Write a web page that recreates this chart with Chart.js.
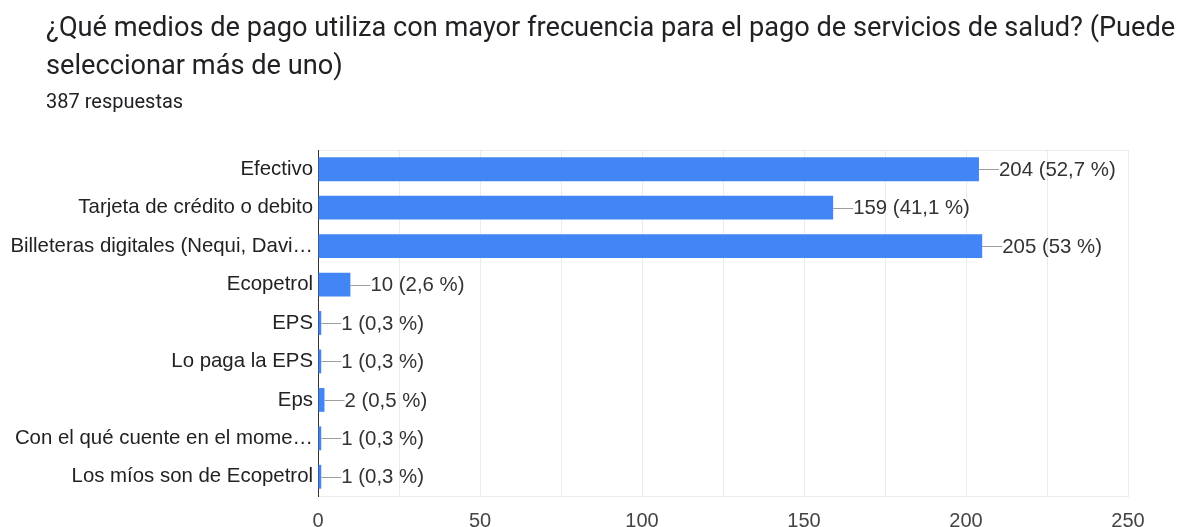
<!DOCTYPE html>
<html>
<head>
<meta charset="utf-8">
<script src="https://cdn.jsdelivr.net/npm/chart.js@4.4.1/dist/chart.umd.min.js"></script>
<style>
  body { margin: 0; background: #fff; }
  #wrap { position: relative; width: 1191px; height: 527px; overflow: hidden; }
  #chart { position: absolute; left: 0; top: 0; }
  .title { position: absolute; left: 46px; top: 8px; width: 1145px; font-family: Roboto, sans-serif; font-size: 27.2px; line-height: 38px; color: #202124; white-space: nowrap; }
  .sub { position: absolute; left: 46px; top: 89px; font-family: Roboto, sans-serif; font-size: 20px; line-height: 24px; color: #202124; }
</style>
</head>
<body>
<div id="wrap">
  <canvas id="chart" width="1191" height="527"></canvas>
  <div class="title">¿Qué medios de pago utiliza con mayor frecuencia para el pago de servicios de salud? (Puede<br>seleccionar más de uno)</div>
  <div class="sub">387 respuestas</div>
</div>
<script>
// answers as shown (long ones are cut by the form itself)
const categories = [
  'Efectivo',
  'Tarjeta de crédito o debito',
  'Billeteras digitales (Nequi, Davi…',
  'Ecopetrol',
  'EPS',
  'Lo paga la EPS',
  'Eps',
  'Con el qué cuente en el mome…',
  'Los míos son de Ecopetrol'
];
const counts = [204, 159, 205, 10, 1, 1, 2, 1, 1];
const percents = ['52,7', '41,1', '53', '2,6', '0,3', '0,3', '0,5', '0,3', '0,3'];
const xTicks = [0, 50, 100, 150, 200, 250];

const labelFont = '"Liberation Sans", Arial, sans-serif';

/*
** draws the little gray line and the "n (p %)" text after each bar
*/
const valueLabels = {
  id: 'valueLabels',
  afterDatasetsDraw(chart) {
    const ctx = chart.ctx;
    const bars = chart.getDatasetMeta(0).data;
    ctx.save();
    ctx.font = '20.4px ' + labelFont;
    ctx.textBaseline = 'middle';
    ctx.textAlign = 'left';
    bars.forEach((bar, i) => {
      ctx.strokeStyle = '#9e9e9e';
      ctx.lineWidth = 1;
      ctx.beginPath();
      ctx.moveTo(bar.x, Math.round(bar.y) + 0.5);
      ctx.lineTo(bar.x + 20, Math.round(bar.y) + 0.5);
      ctx.stroke();
      ctx.fillStyle = '#333';
      ctx.fillText(`${counts[i]} (${percents[i]} %)`, bar.x + 20, bar.y + 1);
    });
    ctx.restore();
  }
};

new Chart(document.getElementById('chart'), {
  type: 'bar',
  data: {
    labels: categories,
    datasets: [{
      data: counts,
      backgroundColor: '#4285f4',
      borderWidth: 0,
      barPercentage: 0.62,
      categoryPercentage: 1
    }]
  },
  plugins: [valueLabels],
  options: {
    indexAxis: 'y',
    responsive: false,
    animation: false,
    layout: { padding: { top: 150, right: 63, left: 0, bottom: 0 } },
    plugins: { legend: { display: false }, tooltip: { enabled: false } },
    scales: {
      x: {
        min: 0,
        max: 250,
        afterFit(scale) { scale.height = 31; },
        border: { color: '#ebebeb' },
        grid: {
          drawTicks: false,
          color: c => (c.tick && c.tick.value === 0) ? '#333' : '#ebebeb'
        },
        ticks: {
          stepSize: 25,
          autoSkip: false,
          maxRotation: 0,
          padding: 13,
          color: '#444',
          font: { family: labelFont, size: 20 },
          callback: v => xTicks.includes(v) ? v : ''
        }
      },
      y: {
        afterFit(scale) { scale.width = 318; },
        border: { color: '#333' },
        grid: {
          drawTicks: false,
          color: c => c.index === 0 ? '#ebebeb' : 'transparent'
        },
        ticks: {
          padding: 5,
          color: '#222',
          font: { family: labelFont, size: 20.4 }
        }
      }
    }
  }
});
</script>
</body>
</html>
